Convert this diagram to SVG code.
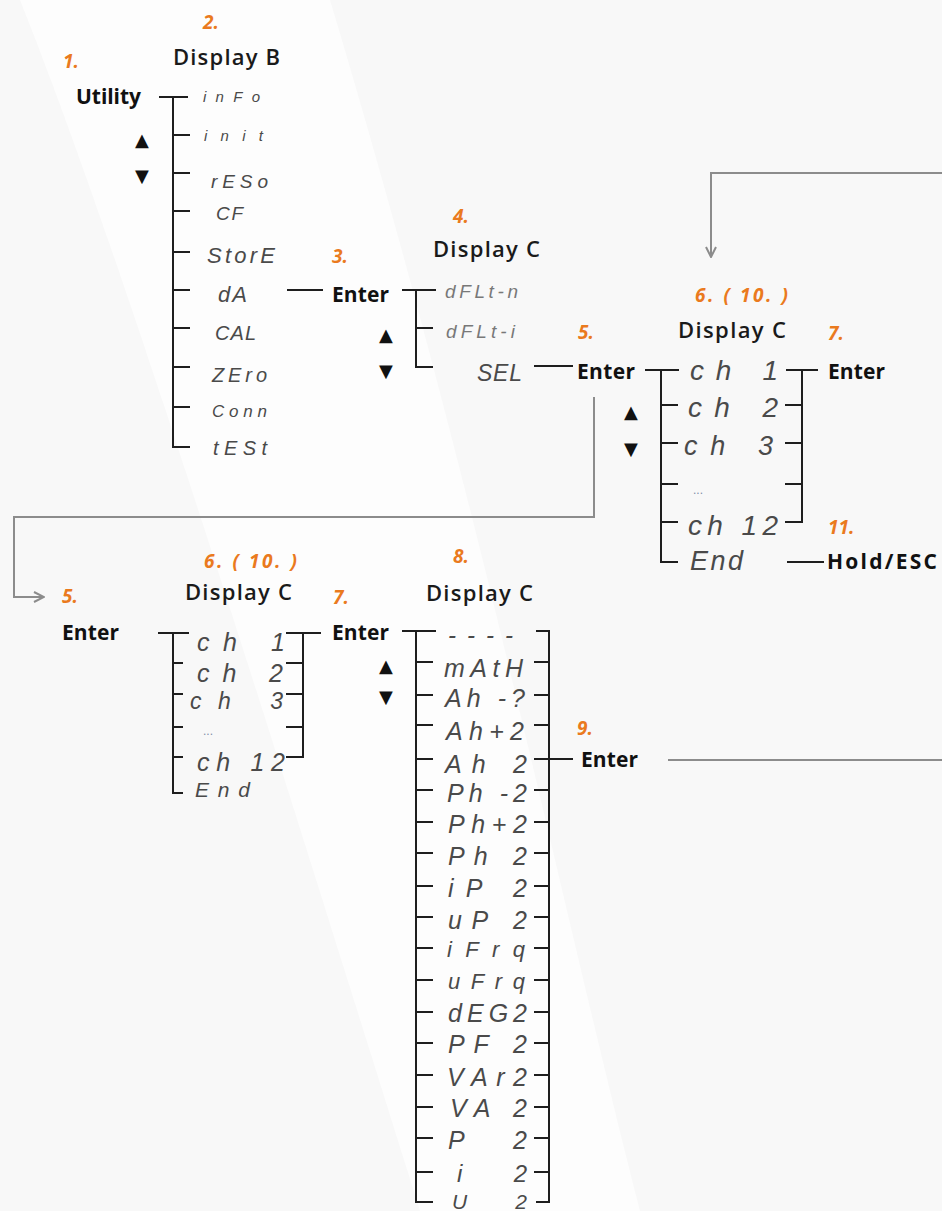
<svg xmlns="http://www.w3.org/2000/svg" width="942" height="1211" viewBox="0 0 942 1211">
<defs>
<style>
.bg{fill:#f8f8f8}
.sw{fill:#fdfdfd}
.t{stroke:#1e1e1e;stroke-width:2;fill:none;stroke-linecap:square}
.g{stroke:#8c8c8c;stroke-width:2;fill:none}
.num{font-family:"Open Sans","Liberation Sans",sans-serif;font-weight:700;font-style:italic;font-size:19px;fill:#ea7a1e}
.hd{font-family:"Open Sans","Liberation Sans",sans-serif;font-weight:600;font-size:22px;fill:#1a1a1a}
.key{font-family:"Open Sans","Liberation Sans",sans-serif;font-weight:700;font-size:21px;fill:#111}
.seg{font-family:"Liberation Sans","Arimo",sans-serif;font-weight:400;font-style:italic;fill:#4a4a4a}
.lt{fill:#787878}
.dots{font-family:"Liberation Sans",sans-serif;font-size:12px;fill:#7f8ea8}
.tri{font-family:"DejaVu Sans",sans-serif;font-size:18px;fill:#111;text-anchor:middle}
</style>
<marker id="ah" viewBox="0 0 12 12" refX="11" refY="6" markerWidth="12" markerHeight="12" markerUnits="userSpaceOnUse" orient="auto">
<path d="M1,1 L11,6 L1,11" fill="none" stroke="#8c8c8c" stroke-width="2"/>
</marker>
</defs>
<rect class="bg" x="0" y="0" width="942" height="1211"/>
<path class="sw" d="M20,0 C120,250 260,700 420,1211 L640,1211 C560,900 480,500 330,0 Z"/>

<g id="connectors">
<path class="g" d="M594,397 V517 H14 V597 H44" marker-end="url(#ah)"/>
<path class="g" d="M942,173 H711 V257" marker-end="url(#ah)"/>
<path class="g" d="M668,760 H942"/>
<path class="t" d="M160,97 H187"/>
<path class="t" d="M288,290 H322"/>
<path class="t" d="M535,366 H572"/>
<path class="t" d="M549,759 H572"/>
<path class="t" d="M788,562 H823"/>
</g>

<g id="tree-display-b">
<path class="t" d="M173,97 V447 H189 M173,135 H189 M173,173 H189 M173,211 H189 M173,252 H189 M173,290 H189 M173,328 H189 M173,367 H189 M173,407 H189"/>
<text class="seg" x="203" y="102" font-size="15" textLength="57" lengthAdjust="spacing">inFo</text>
<text class="seg" x="204" y="141" font-size="15" textLength="59" lengthAdjust="spacing">init</text>
<text class="seg" x="211" y="188" font-size="19" textLength="57" lengthAdjust="spacing">rESo</text>
<text class="seg" x="216" y="220" font-size="19" textLength="27" lengthAdjust="spacing">CF</text>
<text class="seg" x="207" y="263" font-size="22" textLength="68" lengthAdjust="spacing">StorE</text>
<text class="seg" x="218" y="302" font-size="22" textLength="29" lengthAdjust="spacing">dA</text>
<text class="seg" x="215" y="340" font-size="20" textLength="41" lengthAdjust="spacing">CAL</text>
<text class="seg" x="212" y="382" font-size="20" textLength="55" lengthAdjust="spacing">ZEro</text>
<text class="seg" x="212" y="417" font-size="17" textLength="55" lengthAdjust="spacing">Conn</text>
<text class="seg" x="213" y="455" font-size="20" textLength="54" lengthAdjust="spacing">tESt</text>
</g>

<g id="tree-display-c1">
<path class="t" d="M403,290 H435 M416,290 V367 H432 M416,328 H432"/>
<text class="seg lt" x="445" y="298" font-size="19" textLength="73" lengthAdjust="spacing">dFLt-n</text>
<text class="seg lt" x="446" y="338" font-size="19" textLength="69" lengthAdjust="spacing">dFLt-i</text>
<text class="seg" x="477" y="381" font-size="23" textLength="45" lengthAdjust="spacing">SEL</text>
</g>

<g id="tree-channel-upper">
<path class="t" d="M646,370 H678 M661,370 V562 H677 M661,405 H677 M661,443 H677 M661,484 H677 M661,522 H677"/>
<path class="t" d="M787,370 H817 M802,370 V522 H786 M786,405 H802 M786,443 H802 M786,484 H802"/>
<text class="seg" x="690" y="380" font-size="28" textLength="88" lengthAdjust="spacing">ch  1</text>
<text class="seg" x="688" y="417" font-size="28" textLength="90" lengthAdjust="spacing">ch  2</text>
<text class="seg" x="684" y="455" font-size="27" textLength="89" lengthAdjust="spacing">ch  3</text>
<text class="dots" x="693" y="494">...</text>
<text class="seg" x="688" y="535" font-size="28" textLength="90" lengthAdjust="spacing">ch 12</text>
<text class="seg" x="690" y="570" font-size="27" textLength="53" lengthAdjust="spacing">End</text>
</g>

<g id="tree-channel-lower">
<path class="t" d="M159,633 H188 M173,633 V793 H182 M173,663 H182 M173,694 H182 M173,727 H182 M173,757 H182"/>
<path class="t" d="M287,633 H320 M303,633 V757 H287 M287,663 H303 M287,694 H303 M287,727 H303"/>
<text class="seg" x="197" y="651" font-size="25" textLength="88" lengthAdjust="spacing">ch  1</text>
<text class="seg" x="197" y="682" font-size="25" textLength="86" lengthAdjust="spacing">ch  2</text>
<text class="seg" x="190" y="709" font-size="23" textLength="93" lengthAdjust="spacing">ch  3</text>
<text class="dots" x="203" y="735" font-size="11">...</text>
<text class="seg" x="197" y="771" font-size="25" textLength="88" lengthAdjust="spacing">ch 12</text>
<text class="seg" x="195" y="797" font-size="21" textLength="55" lengthAdjust="spacing">End</text>
</g>

<g id="tree-display-c2">
<path class="t" d="M403,631 H435 M416,631 V1202 H432 M416,662 H432 M416,695 H432 M416,725 H432 M416,759 H432 M416,790 H432 M416,822 H432 M416,853 H432 M416,886 H432 M416,917 H432 M416,948 H432 M416,980 H432 M416,1012 H432 M416,1043 H432 M416,1075 H432 M416,1107 H432 M416,1138 H432 M416,1172 H432"/>
<path class="t" d="M537,631 H549 V1202 H537 M535,662 H549 M535,695 H549 M535,725 H549 M535,759 H549 M535,790 H549 M535,822 H549 M535,853 H549 M535,886 H549 M535,917 H549 M535,948 H549 M535,980 H549 M535,1012 H549 M535,1043 H549 M535,1075 H549 M535,1107 H549 M535,1138 H549 M535,1172 H549"/>
<text class="seg" x="448" y="643" font-size="24" font-weight="700" fill="#333" textLength="65" lengthAdjust="spacing">----</text>
<text class="seg" x="444" y="677" font-size="25" textLength="79" lengthAdjust="spacing">mAtH</text>
<text class="seg" x="445" y="707" font-size="25" textLength="80" lengthAdjust="spacing">Ah -?</text>
<text class="seg" x="446" y="740" font-size="25" textLength="78" lengthAdjust="spacing">Ah+2</text>
<text class="seg" x="445" y="773" font-size="25" textLength="82" lengthAdjust="spacing">Ah  2</text>
<text class="seg" x="447" y="802" font-size="25" textLength="80" lengthAdjust="spacing">Ph -2</text>
<text class="seg" x="448" y="833" font-size="25" textLength="79" lengthAdjust="spacing">Ph+2</text>
<text class="seg" x="448" y="865" font-size="25" textLength="79" lengthAdjust="spacing">Ph  2</text>
<text class="seg" x="448" y="897" font-size="25" textLength="79" lengthAdjust="spacing">iP  2</text>
<text class="seg" x="448" y="929" font-size="25" textLength="79" lengthAdjust="spacing">uP  2</text>
<text class="seg" x="447" y="957" font-size="22" textLength="78" lengthAdjust="spacing">iFrq</text>
<text class="seg" x="448" y="989" font-size="22" textLength="77" lengthAdjust="spacing">uFrq</text>
<text class="seg" x="448" y="1022" font-size="25" textLength="79" lengthAdjust="spacing">dEG2</text>
<text class="seg" x="448" y="1053" font-size="25" textLength="79" lengthAdjust="spacing">PF  2</text>
<text class="seg" x="447" y="1086" font-size="25" textLength="80" lengthAdjust="spacing">VAr2</text>
<text class="seg" x="450" y="1117" font-size="25" textLength="77" lengthAdjust="spacing">VA  2</text>
<text class="seg" x="448" y="1149" font-size="25" textLength="79" lengthAdjust="spacing">P   2</text>
<text class="seg" x="457" y="1182" font-size="24" textLength="70" lengthAdjust="spacing">i   2</text>
<text class="seg" x="452" y="1209" font-size="21" textLength="75" lengthAdjust="spacing">U   2</text>
</g>

<g id="labels-step">
<text class="num" x="63" y="68">1.</text>
<text class="num" x="203" y="29">2.</text>
<text class="num" x="332" y="263">3.</text>
<text class="num" x="453" y="223">4.</text>
<text class="num" x="578" y="339">5.</text>
<text class="num" x="695" y="302" textLength="93" lengthAdjust="spacing">6. ( 10. )</text>
<text class="num" x="828" y="340">7.</text>
<text class="num" x="828" y="534">11.</text>
<text class="num" x="204" y="568" textLength="93" lengthAdjust="spacing">6. ( 10. )</text>
<text class="num" x="62" y="603">5.</text>
<text class="num" x="333" y="604">7.</text>
<text class="num" x="453" y="563">8.</text>
<text class="num" x="577" y="735">9.</text>
</g>

<g id="n-utility"><text class="key" x="76" y="104" textLength="65" lengthAdjust="spacing">Utility</text>
<text class="tri" x="142" y="146">▲</text><text class="tri" x="142" y="182">▼</text></g>
<g id="n-display-b"><text class="hd" x="173" y="65" textLength="107" lengthAdjust="spacing">Display B</text></g>
<g id="n-enter-3"><text class="key" x="332" y="302" textLength="57" lengthAdjust="spacing">Enter</text>
<text class="tri" x="386" y="341">▲</text><text class="tri" x="386" y="377">▼</text></g>
<g id="n-display-c-4"><text class="hd" x="433" y="257" textLength="107" lengthAdjust="spacing">Display C</text></g>
<g id="n-enter-5"><text class="key" x="577" y="379" textLength="58" lengthAdjust="spacing">Enter</text>
<text class="tri" x="631" y="418">▲</text><text class="tri" x="631" y="455">▼</text></g>
<g id="n-display-c-6"><text class="hd" x="678" y="338" textLength="108" lengthAdjust="spacing">Display C</text></g>
<g id="n-enter-7"><text class="key" x="828" y="379" textLength="57" lengthAdjust="spacing">Enter</text></g>
<g id="n-hold-esc"><text class="key" x="827" y="569" textLength="110" lengthAdjust="spacing">Hold/ESC</text></g>
<g id="n-enter-5b"><text class="key" x="62" y="640" textLength="57" lengthAdjust="spacing">Enter</text></g>
<g id="n-display-c-6b"><text class="hd" x="185" y="600" textLength="107" lengthAdjust="spacing">Display C</text></g>
<g id="n-enter-7b"><text class="key" x="332" y="640" textLength="57" lengthAdjust="spacing">Enter</text>
<text class="tri" x="386" y="672">▲</text><text class="tri" x="386" y="703">▼</text></g>
<g id="n-display-c-8"><text class="hd" x="426" y="601" textLength="107" lengthAdjust="spacing">Display C</text></g>
<g id="n-enter-9"><text class="key" x="581" y="767" textLength="57" lengthAdjust="spacing">Enter</text></g>
</svg>
